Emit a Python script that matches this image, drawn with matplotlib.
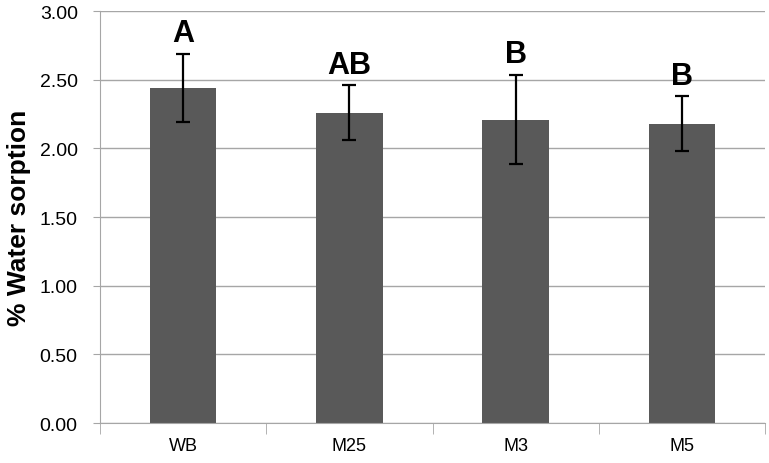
import matplotlib.pyplot as plt
import numpy as np

plt.rcParams['font.family'] = ['Liberation Sans', 'DejaVu Sans']

# Data
groups = ['WB', 'M25', 'M3', 'M5']
sorption = [2.44, 2.26, 2.21, 2.18]
sd = [0.25, 0.20, 0.325, 0.20]
letters = ['A', 'AB', 'B', 'B']
yticks = [0.0, 0.5, 1.0, 1.5, 2.0, 2.5, 3.0]

fig = plt.figure(figsize=(7.69, 4.64), dpi=100)
ax = fig.add_axes([0.130, 0.086, 0.865, 0.888])

x = np.arange(len(groups))
ax.bar(x, sorption, width=0.4, color='#595959', zorder=2)
ax.errorbar(x, sorption, yerr=sd, fmt='none', ecolor='black',
            elinewidth=1.6, capsize=5, capthick=1.6, zorder=3)

# significance letters above the error bars
for xi, m, e, lab in zip(x, sorption, sd, letters):
    ax.annotate(lab, (xi, m + e), xytext=(0, 4), textcoords='offset points',
                ha='center', va='bottom', fontsize=22, fontweight='bold')

ax.set_xlim(-0.5, len(groups) - 0.5)
ax.set_ylim(0, 3.0)
ax.set_yticks(yticks)
ax.set_yticklabels([f'{v:.2f}' for v in yticks], fontsize=14)
ax.set_xticks(x)
ax.set_xticklabels(groups, fontsize=13)
ax.set_xticks(np.arange(len(groups) + 1) - 0.5, minor=True)
ax.tick_params(axis='x', which='major', length=0, pad=10)
ax.tick_params(axis='x', which='minor', length=8, color='#a6a6a6')
ax.tick_params(axis='y', length=5, color='#a6a6a6', pad=11)

ax.grid(axis='y', color='#a6a6a6', linewidth=1, zorder=0)
for side in ['top', 'right']:
    ax.spines[side].set_visible(False)
for side in ['left', 'bottom']:
    ax.spines[side].set_color('#a6a6a6')

ax.set_ylabel('% Water sorption', fontsize=19, fontweight='bold', labelpad=6)

fig.savefig('out.png', dpi=100)
